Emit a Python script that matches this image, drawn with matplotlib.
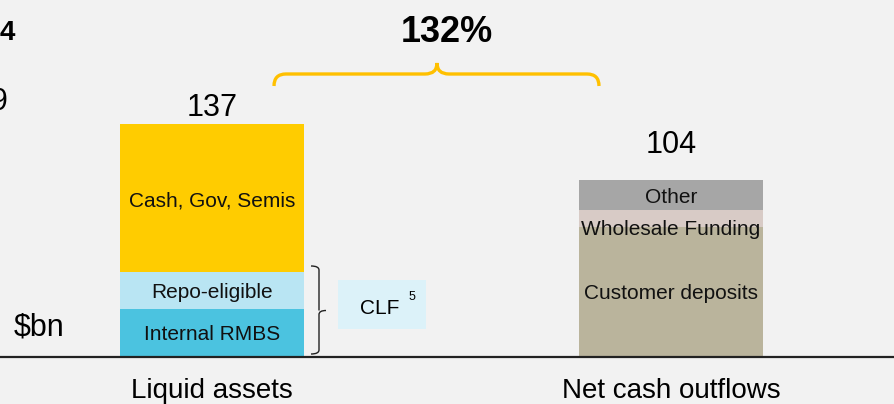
"""Liquidity coverage: liquid assets versus net cash outflows."""

import matplotlib

matplotlib.use("Agg")
import matplotlib.pyplot as plt
from matplotlib.patches import PathPatch, Rectangle
from matplotlib.path import Path

plt.rcParams["font.family"] = ["Liberation Sans", "DejaVu Sans"]

# data ($bn)
categories = ["Liquid assets", "Net cash outflows"]
totals = [137, 104]
ratio_label = "132%"

asset_labels = ["Internal RMBS", "Repo-eligible", "Cash, Gov, Semis"]
asset_values = [28, 22, 87]
asset_colors = ["#4BC3E0", "#B9E5F3", "#FFCC00"]

outflow_labels = ["Customer deposits", "Wholesale Funding", "Other"]
outflow_values = [76, 10, 18]
outflow_colors = ["#BAB49C", "#D8CBC6", "#A6A6A6"]

BG = "#F2F2F2"
W, H = 894, 404
PX_X = 459.0  # pixels per x unit
PX_Y = 1.70  # pixels per $bn
X0, Y0 = 212.0, 356.5  # pixel position of (0, 0), from top-left


def to_data(px, py):
    return (px - X0) / PX_X, (Y0 - py) / PX_Y


fig = plt.figure(figsize=(W / 100, H / 100), dpi=100, facecolor=BG)
ax = fig.add_axes([0, 0, 1, 1], facecolor=BG)
ax.set_xlim(-X0 / PX_X, (W - X0) / PX_X)
ax.set_ylim(-(H - Y0) / PX_Y, Y0 / PX_Y)
ax.axis("off")

bar_w = 184 / PX_X
x = [0, 1]


def stack(xpos, values, colors, labels, label_shift):
    bottom = 0
    for v, c, lab, dy in zip(values, colors, labels, label_shift):
        ax.bar(xpos, v, bottom=bottom, width=bar_w, color=c, linewidth=0)
        ax.text(xpos, bottom + v / 2 + dy - 1.2, lab, ha="center", va="center",
                fontsize=15, color="#111111")
        bottom += v


stack(x[0], asset_values, asset_colors, asset_labels, [0, 0, -1.0])
stack(x[1], outflow_values, outflow_colors, outflow_labels, [0, -5.0, 0])

# totals
for xpos, total, pad in zip(x, totals, [4.4, 15.9]):
    ax.text(xpos, total + pad, str(total), ha="center", va="baseline", fontsize=22)

# baseline
ax.axhline(0, color="#222222", linewidth=1.6)

for xpos, cat in zip(x, categories):
    ax.text(xpos, to_data(0, 398)[1], cat, ha="center", va="baseline", fontsize=20)

# ratio and yellow brace
tx, ty = to_data(447, 42)
ax.text(tx, ty, ratio_label, ha="center", va="baseline", fontsize=26, fontweight="bold")

xl, ye = to_data(274, 86)
xr, _ = to_data(599, 86)
xm, yh = to_data(437, 74)
_, yt = to_data(0, 63)
rx = 12 / PX_X
verts = [
    (xl, ye), (xl, yh), (xl + rx, yh),
    (xm - rx, yh),
    (xm, yh), (xm, yt),
    (xm, yh), (xm + rx, yh),
    (xr - rx, yh),
    (xr, yh), (xr, ye),
]
codes = [Path.MOVETO, Path.CURVE3, Path.CURVE3, Path.LINETO,
         Path.CURVE3, Path.CURVE3, Path.CURVE3, Path.CURVE3,
         Path.LINETO, Path.CURVE3, Path.CURVE3]
ax.add_patch(PathPatch(Path(verts, codes), fill=False, edgecolor="#FFC000",
                       linewidth=2.4, capstyle="butt"))

# black bracket around RMBS + repo
bx0, by0 = to_data(311, 354)
bx1, by1 = to_data(319, 266)
bxt, byt = to_data(326, 310.5)
verts = [
    (bx0, by0), (bx1, by0), (bx1, by0 + 4 / PX_Y),
    (bx1, byt - 4 / PX_Y), (bx1, byt), (bxt, byt),
    (bx1, byt), (bx1, byt + 4 / PX_Y),
    (bx1, by1 - 4 / PX_Y), (bx1, by1), (bx0, by1),
]
codes = [Path.MOVETO, Path.CURVE3, Path.CURVE3, Path.LINETO,
         Path.CURVE3, Path.CURVE3, Path.MOVETO, Path.LINETO,
         Path.LINETO, Path.CURVE3, Path.CURVE3]
ax.add_patch(PathPatch(Path(verts, codes), fill=False, edgecolor="#222222",
                       linewidth=1.0))

# CLF box
cx0, cy0 = to_data(338, 329)
cx1, cy1 = to_data(426, 280)
ax.add_patch(Rectangle((cx0, cy0), cx1 - cx0, cy1 - cy0, facecolor="#DCF2F9",
                       edgecolor="none"))
ax.text(*to_data(380, 314), "CLF", ha="center", va="baseline", fontsize=15)
ax.text(*to_data(411.5, 300), "5", ha="center", va="baseline", fontsize=9)

# unit and clipped side labels
ax.text(*to_data(14, 335), "$bn", ha="left", va="baseline", fontsize=22)
ax.text(*to_data(15, 40), "4", ha="right", va="baseline", fontsize=20,
        fontweight="bold")
ax.text(*to_data(8, 110), "9", ha="right", va="baseline", fontsize=22)

fig.savefig("out.png", dpi=100, facecolor=BG)
